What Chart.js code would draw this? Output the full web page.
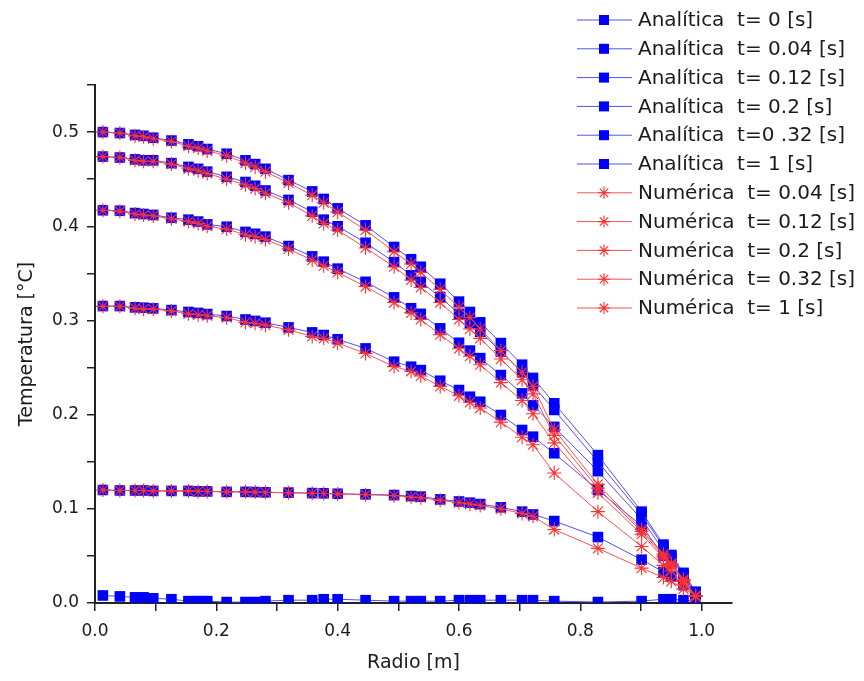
<!DOCTYPE html>
<html>
<head>
<meta charset="utf-8">
<script src="https://cdn.jsdelivr.net/npm/chart.js@4.4.1/dist/chart.umd.min.js"></script>
<style>
html, body { margin: 0; padding: 0; background: #fff; }
canvas { display: block; }
</style>
</head>
<body>
<canvas id="tempChart" width="864" height="681"></canvas>
<script>
// Radio [m] positions of the nodes
const radio = [0.013, 0.041, 0.066, 0.080, 0.096, 0.126, 0.154, 0.170, 0.185, 0.217, 0.248, 0.264, 0.281, 0.319, 0.358, 0.377, 0.400, 0.446, 0.493, 0.521, 0.537, 0.569, 0.600, 0.618, 0.635, 0.669, 0.704, 0.722, 0.757, 0.829, 0.901, 0.937, 0.950, 0.970, 0.990];

// Analytic solution
const anaT0 = [0.008, 0.007, 0.006, 0.006, 0.005, 0.004, 0.002, 0.002, 0.002, 0.001, 0.001, 0.001, 0.002, 0.003, 0.003, 0.004, 0.004, 0.003, 0.002, 0.002, 0.002, 0.002, 0.003, 0.003, 0.003, 0.003, 0.003, 0.003, 0.002, 0.001, 0.002, 0.004, 0.004, 0.003, 0.002];
const anaT004 = [0.500, 0.499, 0.497, 0.496, 0.494, 0.491, 0.487, 0.485, 0.482, 0.477, 0.470, 0.466, 0.461, 0.449, 0.437, 0.429, 0.419, 0.401, 0.378, 0.365, 0.357, 0.339, 0.320, 0.309, 0.298, 0.276, 0.253, 0.239, 0.212, 0.157, 0.097, 0.062, 0.051, 0.032, 0.012];
const anaT012 = [0.474, 0.473, 0.471, 0.470, 0.470, 0.467, 0.463, 0.461, 0.458, 0.4525, 0.447, 0.443, 0.438, 0.428, 0.4155, 0.407, 0.400, 0.3825, 0.362, 0.348, 0.341, 0.325, 0.307, 0.297, 0.288, 0.267, 0.245, 0.231, 0.205, 0.150, 0.094, 0.060, 0.049, 0.031, 0.011];
const anaT02 = [0.417, 0.4165, 0.414, 0.413, 0.412, 0.409, 0.407, 0.405, 0.402, 0.3995, 0.394, 0.392, 0.389, 0.379, 0.368, 0.3624, 0.355, 0.341, 0.3245, 0.313, 0.307, 0.2916, 0.2763, 0.268, 0.260, 0.242, 0.2226, 0.210, 0.187, 0.140, 0.089, 0.056, 0.046, 0.029, 0.010];
const anaT032 = [0.3153, 0.3153, 0.3139, 0.3135, 0.3128, 0.311, 0.309, 0.308, 0.3068, 0.3047, 0.301, 0.2995, 0.2976, 0.2926, 0.2873, 0.2845, 0.280, 0.2703, 0.2562, 0.2509, 0.2473, 0.236, 0.2261, 0.219, 0.2137, 0.1996, 0.1837, 0.1766, 0.159, 0.120, 0.082, 0.050, 0.042, 0.026, 0.009];
const anaT1 = [0.120, 0.1195, 0.1195, 0.1195, 0.119, 0.119, 0.119, 0.1185, 0.1185, 0.118, 0.118, 0.1178, 0.1175, 0.1172, 0.1167, 0.1165, 0.116, 0.1154, 0.1146, 0.1135, 0.1129, 0.110, 0.1078, 0.1065, 0.105, 0.1016, 0.097, 0.094, 0.087, 0.070, 0.046, 0.033, 0.028, 0.019, 0.010];

// Numerical solution
const numT004 = [0.500, 0.499, 0.496, 0.495, 0.493, 0.490, 0.485, 0.483, 0.480, 0.475, 0.467, 0.463, 0.458, 0.446, 0.433, 0.425, 0.415, 0.396, 0.373, 0.360, 0.351, 0.333, 0.314, 0.303, 0.291, 0.268, 0.245, 0.230, 0.184, 0.126, 0.078, 0.052, 0.042, 0.025, 0.007];
const numT012 = [0.474, 0.473, 0.470, 0.469, 0.469, 0.466, 0.461, 0.459, 0.456, 0.450, 0.444, 0.440, 0.435, 0.425, 0.411, 0.403, 0.396, 0.377, 0.357, 0.343, 0.335, 0.319, 0.301, 0.291, 0.281, 0.259, 0.237, 0.222, 0.178, 0.122, 0.076, 0.050, 0.041, 0.024, 0.007];
const numT02 = [0.417, 0.416, 0.413, 0.412, 0.411, 0.408, 0.405, 0.403, 0.400, 0.397, 0.391, 0.389, 0.386, 0.376, 0.364, 0.358, 0.351, 0.336, 0.319, 0.308, 0.301, 0.285, 0.270, 0.262, 0.253, 0.234, 0.215, 0.201, 0.170, 0.117, 0.073, 0.048, 0.039, 0.023, 0.007];
const numT032 = [0.315, 0.315, 0.313, 0.312, 0.312, 0.310, 0.307, 0.306, 0.305, 0.303, 0.298, 0.297, 0.295, 0.290, 0.283, 0.281, 0.276, 0.265, 0.251, 0.246, 0.241, 0.230, 0.220, 0.213, 0.207, 0.192, 0.176, 0.168, 0.138, 0.097, 0.060, 0.040, 0.034, 0.020, 0.007];
const numT1 = [0.120, 0.1195, 0.1195, 0.1195, 0.119, 0.119, 0.119, 0.1185, 0.1185, 0.118, 0.118, 0.1178, 0.1175, 0.117, 0.1165, 0.1163, 0.1158, 0.115, 0.114, 0.1125, 0.1118, 0.109, 0.1066, 0.105, 0.1035, 0.100, 0.095, 0.092, 0.078, 0.058, 0.037, 0.027, 0.023, 0.015, 0.008];

const analyticLabels = ['Analítica  t= 0 [s]', 'Analítica  t= 0.04 [s]', 'Analítica  t= 0.12 [s]', 'Analítica  t= 0.2 [s]', 'Analítica  t=0 .32 [s]', 'Analítica  t= 1 [s]'];
const numericLabels = ['Numérica  t= 0.04 [s]', 'Numérica  t= 0.12 [s]', 'Numérica  t= 0.2 [s]', 'Numérica  t= 0.32 [s]', 'Numérica  t= 1 [s]'];

const FONT = '"DejaVu Sans", sans-serif';
const TEXT = '#1a1a1a';

function toPoints(values) {
    return radio.map((r, i) => ({ x: r, y: values[i] }));
}

function analytic(label, values) {
    return {
        label: label,
        data: toPoints(values),
        borderColor: '#5050ff',
        borderWidth: 1,
        pointStyle: 'rect',
        pointRadius: 7.5,
        pointBackgroundColor: '#0000ff',
        pointBorderColor: '#0000ff',
        pointBorderWidth: 0,
        tension: 0,
        order: 2
    };
}

function numeric(label, values) {
    return {
        label: label,
        data: toPoints(values),
        borderColor: '#ff5050',
        borderWidth: 1,
        pointStyle: 'star',
        pointRadius: 7,
        pointBorderColor: '#ff3030',
        pointBorderWidth: 1.1,
        tension: 0,
        order: 1
    };
}

// Legend drawn over the top right corner, like the original
const sideLegend = {
    id: 'sideLegend',
    afterDraw(chart) {
        const ctx = chart.ctx;
        ctx.save();
        ctx.font = '20px ' + FONT;
        ctx.textBaseline = 'middle';
        chart.data.datasets.forEach((ds, i) => {
            const y = 20 + i * 28.8;
            ctx.strokeStyle = ds.borderColor;
            ctx.lineWidth = 1;
            ctx.beginPath();
            ctx.moveTo(577, y);
            ctx.lineTo(632, y);
            ctx.stroke();
            if (ds.pointStyle === 'rect') {
                ctx.fillStyle = ds.pointBackgroundColor;
                ctx.fillRect(599, y - 5, 10, 10);
            } else {
                ctx.strokeStyle = ds.pointBorderColor;
                ctx.lineWidth = 1.1;
                ctx.beginPath();
                for (let k = 0; k < 4; k++) {
                    const a = k * Math.PI / 4;
                    ctx.moveTo(604 - 6 * Math.cos(a), y - 6 * Math.sin(a));
                    ctx.lineTo(604 + 6 * Math.cos(a), y + 6 * Math.sin(a));
                }
                ctx.stroke();
            }
            ctx.fillStyle = TEXT;
            ctx.fillText(ds.label, 638, y + 1);
        });
        ctx.restore();
    }
};

const ctx = document.getElementById('tempChart').getContext('2d');
new Chart(ctx, {
    type: 'line',
    data: {
        datasets: [
            analytic(analyticLabels[0], anaT0),
            analytic(analyticLabels[1], anaT004),
            analytic(analyticLabels[2], anaT012),
            analytic(analyticLabels[3], anaT02),
            analytic(analyticLabels[4], anaT032),
            analytic(analyticLabels[5], anaT1),
            numeric(numericLabels[0], numT004),
            numeric(numericLabels[1], numT012),
            numeric(numericLabels[2], numT02),
            numeric(numericLabels[3], numT032),
            numeric(numericLabels[4], numT1)
        ]
    },
    options: {
        responsive: false,
        animation: false,
        layout: {
            padding: { left: 12, top: 85, right: 132, bottom: 0 }
        },
        plugins: {
            legend: { display: false },
            tooltip: { enabled: false }
        },
        scales: {
            x: {
                type: 'linear',
                min: 0,
                max: 1.05,
                afterFit: (scale) => { scale.height = 78; },
                border: { display: true, color: '#222', width: 2 },
                grid: {
                    drawOnChartArea: false,
                    drawTicks: true,
                    tickLength: 8,
                    color: '#222',
                    lineWidth: 1.5
                },
                ticks: {
                    stepSize: 0.1,
                    includeBounds: false,
                    autoSkip: false,
                    maxRotation: 0,
                    padding: 10,
                    color: TEXT,
                    font: { family: FONT, size: 17 },
                    callback: (v) => (Math.round(v * 10) % 2 === 0 ? v.toFixed(1) : '')
                },
                title: {
                    display: true,
                    text: 'Radio [m]',
                    color: TEXT,
                    font: { family: FONT, size: 19 },
                    padding: { top: 4, bottom: 7 }
                }
            },
            y: {
                min: 0,
                max: 0.55,
                afterFit: (scale) => { scale.width = 83; },
                border: { display: true, color: '#222', width: 2 },
                grid: {
                    drawOnChartArea: false,
                    drawTicks: true,
                    tickLength: 8,
                    color: '#222',
                    lineWidth: 1.5
                },
                ticks: {
                    stepSize: 0.05,
                    autoSkip: false,
                    padding: 8,
                    color: TEXT,
                    font: { family: FONT, size: 17 },
                    callback: (v) => (Math.round(v * 100) % 10 === 0 ? v.toFixed(1) : '')
                },
                title: {
                    display: true,
                    text: 'Temperatura [°C]',
                    color: TEXT,
                    font: { family: FONT, size: 19 },
                    padding: { top: 4, bottom: 4 }
                }
            }
        }
    },
    plugins: [sideLegend]
});
</script>
</body>
</html>
